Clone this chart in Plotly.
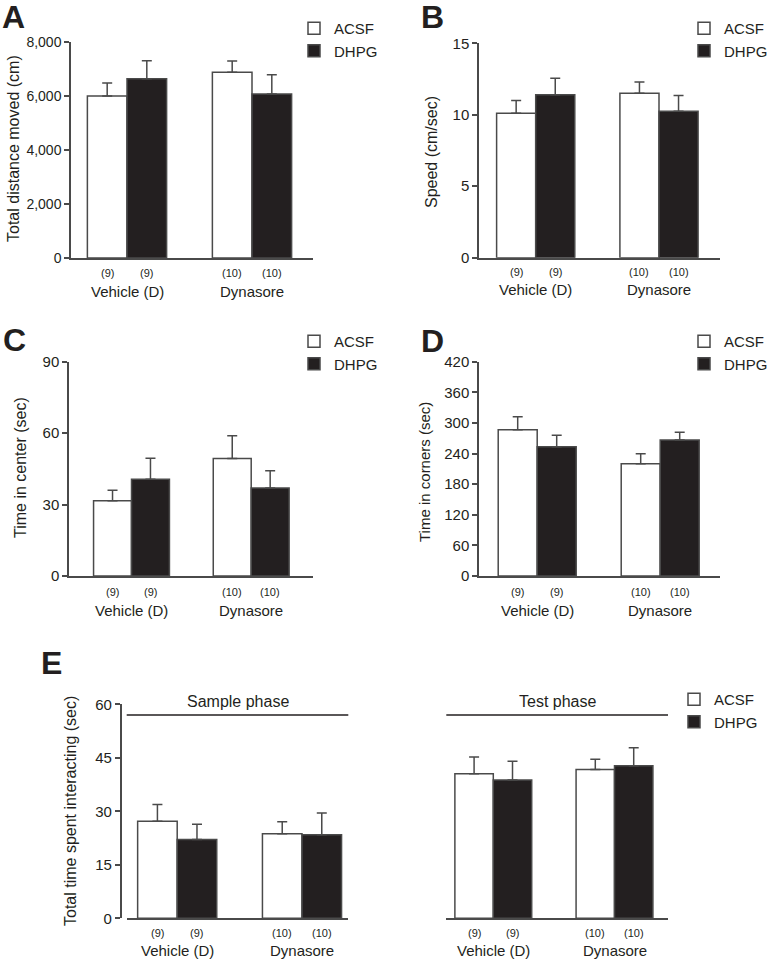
import plotly.graph_objects as go

# ---------------- data ----------------
groups = ["Vehicle (D)", "Dynasore"]
series = ["ACSF", "DHPG"]
n_acsf = ["(9)", "(10)"]
n_dhpg = ["(9)", "(10)"]

dist_acsf = [6000, 6880]
dist_acsf_err = [480, 420]
dist_dhpg = [6640, 6070]
dist_dhpg_err = [670, 720]

speed_acsf = [10.1, 11.5]
speed_acsf_err = [0.9, 0.8]
speed_dhpg = [11.4, 10.25]
speed_dhpg_err = [1.15, 1.1]

center_acsf = [31.6, 49.3]
center_acsf_err = [4.4, 9.6]
center_dhpg = [40.6, 37.0]
center_dhpg_err = [8.8, 7.2]

corners_acsf = [286.7, 220.1]
corners_acsf_err = [25.5, 19.6]
corners_dhpg = [253.4, 266.5]
corners_dhpg_err = [22.3, 15.1]

sample_acsf = [27.2, 23.7]
sample_acsf_err = [4.7, 3.4]
sample_dhpg = [22.1, 23.4]
sample_dhpg_err = [4.3, 6.1]

test_acsf = [40.5, 41.7]
test_acsf_err = [4.7, 2.9]
test_dhpg = [38.8, 42.8]
test_dhpg_err = [5.2, 5.0]

y_titles = ["Total distance moved (cm)", "Speed (cm/sec)", "Time in center (sec)",
            "Time in corners (sec)", "Total time spent interacting (sec)"]
panel_letters = ["A", "B", "C", "D", "E"]
phase_names = ["Sample phase", "Test phase"]

# ---------------- layout helpers ----------------
W, H = 768, 960
FONT = "Liberation Sans, Arial, sans-serif"
INK = "#231f20"
LINE = "#4a4a4a"
BW = 0.317  # bar width as a fraction of the group spacing


def fx(px):
    return px / W


def fy(py):
    return 1 - py / H


# geometry in pixels: axis x0, x1, group centre 0, group centre 1, y top, y bottom
panels = [
    dict(acsf=dist_acsf, acsf_err=dist_acsf_err, dhpg=dist_dhpg, dhpg_err=dist_dhpg_err,
         ax=(71, 313), c=(127, 252), yy=(42, 258), ymax=8000, dtick=2000, fmt=",d",
         n_y=272.5, g_y=291, yaxis_free=None, show_y=True, legend=(294, 12), tick_size=14),
    dict(acsf=speed_acsf, acsf_err=speed_acsf_err, dhpg=speed_dhpg, dhpg_err=speed_dhpg_err,
         ax=(479, 720), c=(535.7, 659), yy=(43.3, 257.7), ymax=15, dtick=5, fmt="d",
         n_y=272, g_y=290, yaxis_free=None, show_y=True, legend=(684, 12), tick_size=15),
    dict(acsf=center_acsf, acsf_err=center_acsf_err, dhpg=center_dhpg, dhpg_err=center_dhpg_err,
         ax=(69, 313), c=(131.5, 251.2), yy=(361.7, 576), ymax=90, dtick=30, fmt="d",
         n_y=591.5, g_y=610, yaxis_free=None, show_y=True, legend=(294, 325), tick_size=15),
    dict(acsf=corners_acsf, acsf_err=corners_acsf_err, dhpg=corners_dhpg, dhpg_err=corners_dhpg_err,
         ax=(479, 720), c=(537.2, 660.2), yy=(361.7, 576), ymax=420, dtick=60, fmt="d",
         n_y=591.5, g_y=610, yaxis_free=None, show_y=True, legend=(684, 325), tick_size=15),
    dict(acsf=sample_acsf, acsf_err=sample_acsf_err, dhpg=sample_dhpg, dhpg_err=sample_dhpg_err,
         ax=(126.7, 348.3), c=(177.2, 302), yy=(704.3, 918.3), ymax=60, dtick=15, fmt="d",
         n_y=932.5, g_y=950, yaxis_free=120.7, show_y=True, legend=None, tick_size=15),
    dict(acsf=test_acsf, acsf_err=test_acsf_err, dhpg=test_dhpg, dhpg_err=test_dhpg_err,
         ax=(446.3, 668), c=(493.3, 614.5), yy=(704.3, 918.3), ymax=60, dtick=15, fmt="d",
         n_y=932.5, g_y=950, yaxis_free=None, show_y=False, legend=(674, 683), tick_size=15),
]

fig = go.Figure()
layout = dict(
    template="none",
    width=W, height=H, margin=dict(l=0, r=0, t=0, b=0, pad=0, autoexpand=False),
    paper_bgcolor="white", plot_bgcolor="white",
    barmode="group", bargap=1 - 2 * BW, bargroupgap=0,
    font=dict(family=FONT, color=INK, size=15),
)
annotations = []
shapes = []

legend_count = 0
for k, p in enumerate(panels, start=1):
    xa = "x" if k == 1 else f"x{k}"
    ya = "y" if k == 1 else f"y{k}"
    xkey = "xaxis" if k == 1 else f"xaxis{k}"
    ykey = "yaxis" if k == 1 else f"yaxis{k}"
    ax0, ax1 = p["ax"]
    c0, c1 = p["c"]
    s = c1 - c0
    layout[xkey] = dict(
        domain=[fx(ax0), fx(ax1)], range=[(ax0 - c0) / s, (ax1 - c0) / s],
        anchor=ya, showline=True, linecolor=LINE, linewidth=1.5, ticks="",
        showticklabels=False, showgrid=False, zeroline=False, fixedrange=True,
        automargin=False,
    )
    yt, yb = p["yy"]
    ydict = dict(
        domain=[fy(yb), fy(yt)], range=[0, p["ymax"]], dtick=p["dtick"], tick0=0,
        tickformat=p["fmt"], showgrid=False, zeroline=False, fixedrange=True,
        automargin=False,
        tickfont=dict(size=p["tick_size"], family=FONT, color=INK),
    )
    if p["show_y"]:
        ydict.update(showline=True, linecolor=LINE, linewidth=1.5, ticks="outside",
                     ticklen=5, tickwidth=1.5, tickcolor=LINE)
    else:
        ydict.update(showline=False, showticklabels=False, ticks="")
    if p["yaxis_free"] is not None:
        ydict.update(anchor="free", position=fx(p["yaxis_free"]))
    else:
        ydict.update(anchor=xa)
    layout[ykey] = ydict

    if p["legend"] is not None:
        legend_count += 1
        lname = "legend" if legend_count == 1 else f"legend{legend_count}"
        lx, ly = p["legend"]
        layout[lname] = dict(
            x=fx(lx), y=fy(ly), xanchor="left", yanchor="top", xref="paper", yref="paper",
            bgcolor="rgba(0,0,0,0)", borderwidth=0,
            font=dict(size=15, family=FONT, color=INK),
            traceorder="normal", tracegroupgap=0, itemclick=False, itemdoubleclick=False,
        )
        show_leg = True
    else:
        lname = "legend"
        show_leg = False

    xs = list(range(len(groups)))
    for name, vals, errs, fill in [
        (series[0], p["acsf"], p["acsf_err"], "white"),
        (series[1], p["dhpg"], p["dhpg_err"], INK),
    ]:
        fig.add_trace(go.Bar(
            x=xs, y=vals, name=name, xaxis=xa, yaxis=ya, legend=lname,
            showlegend=show_leg,
            marker=dict(color=fill, line=dict(color=LINE, width=1.5)),
            error_y=dict(type="data", array=errs, arrayminus=[0] * len(errs),
                         symmetric=False, color=LINE, thickness=1.5, width=5),
            hoverinfo="skip",
        ))

    # n labels and group labels
    for i, g in enumerate(groups):
        for xoff, txt in ((-BW / 2, n_acsf[i]), (BW / 2, n_dhpg[i])):
            annotations.append(dict(x=i + xoff, y=fy(p["n_y"]), xref=xa, yref="paper",
                                    text=txt, showarrow=False, xanchor="center",
                                    yanchor="middle", font=dict(size=11)))
        annotations.append(dict(x=i, y=fy(p["g_y"]), xref=xa, yref="paper",
                                text=g, showarrow=False, xanchor="center",
                                yanchor="middle", font=dict(size=15)))

# y-axis titles (x px, y px, size)
ytitle_pos = [(13, 149, 16), (431, 152, 16), (20, 468, 16), (424, 472, 15), (70, 811, 16)]
for t, (px, py, sz) in zip(y_titles, ytitle_pos):
    annotations.append(dict(x=fx(px), y=fy(py), xref="paper", yref="paper", text=t,
                            textangle=-90, showarrow=False, font=dict(size=sz),
                            xanchor="center", yanchor="middle"))

# panel letters
letter_pos = [(0, 17), (419, 17), (1, 340), (419, 341), (39, 663)]
for t, (px, py) in zip(panel_letters, letter_pos):
    annotations.append(dict(x=fx(px), y=fy(py), xref="paper", yref="paper",
                            text=f"<b>{t}</b>", showarrow=False, xanchor="left",
                            yanchor="middle", font=dict(size=32, family=FONT, color=INK)))

# phase headers with lines
for name, p in zip(phase_names, panels[4:6]):
    ax0, ax1 = p["ax"]
    shapes.append(dict(type="line", xref="paper", yref="paper", x0=fx(ax0), x1=fx(ax1),
                       y0=fy(715), y1=fy(715), line=dict(color=INK, width=1.5)))
    annotations.append(dict(x=fx((ax0 + ax1) / 2), y=fy(701), xref="paper", yref="paper",
                            text=name, showarrow=False, xanchor="center", yanchor="middle",
                            font=dict(size=16)))

layout["annotations"] = annotations
layout["shapes"] = shapes
fig.update_layout(**layout)
fig.write_html(
    "out.html",
    config={"displayModeBar": False},
    post_script="document.body.style.margin='0';document.body.style.padding='0';",
)
